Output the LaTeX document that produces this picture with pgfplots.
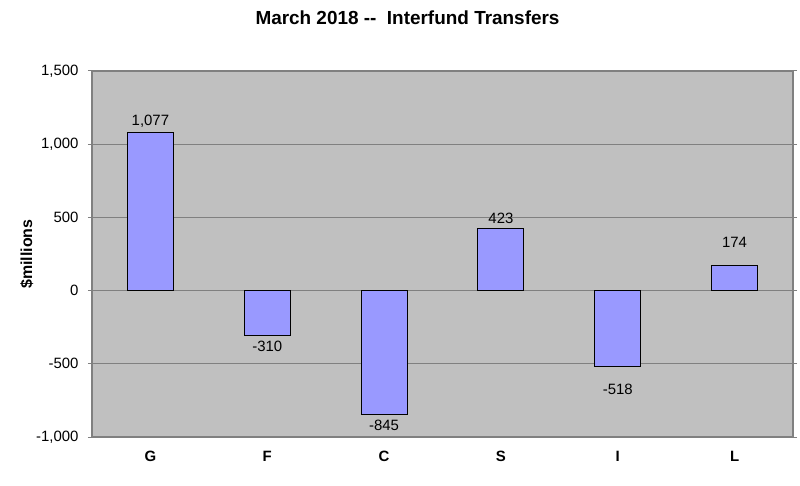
\documentclass[border=0pt]{standalone}
\usepackage{pgfplots}
\pgfplotsset{compat=1.18}
\usepackage{fontspec}
\setmainfont{Liberation Sans}
\definecolor{plotbg}{HTML}{C0C0C0}
\definecolor{barfill}{HTML}{9999FF}
\definecolor{gridc}{HTML}{808080}
\begin{document}
\begin{tikzpicture}
\begin{axis}[
  at={(0,0)}, anchor=south west,
  scale only axis,
  width=701bp, height=366bp,
  axis background/.style={fill=plotbg},
  axis line style={gridc, line width=1.2bp},
  xmin=-0.5, xmax=5.5,
  ymin=-1000, ymax=1500,
  ytick={-1000,-500,0,500,1000,1500},
  ymajorgrids,
  grid style={gridc, line width=1.2bp},
  xtick={0,1,2,3,4,5},
  xticklabels={G,F,C,S,I,L},
  major x tick style={draw=none},
  major y tick style={gridc, line width=1bp},
  tick align=outside,
  major tick length=4bp,
  y tick label style={font=\fontsize{15}{17}\selectfont, xshift=-6bp},
  x tick label style={font=\bfseries\fontsize{15}{17}\selectfont, yshift=-7bp},
  /pgf/number format/1000 sep={,},
  /pgf/number format/assume math mode=true,
  ylabel={\$millions},
  ylabel style={font=\bfseries\fontsize{16}{18}\selectfont, yshift=-4bp},
  title={March 2018 -{}-\ \ Interfund Transfers},
  title style={font=\bfseries\fontsize{19}{21}\selectfont, yshift=37bp, xshift=-35bp},
  ybar, bar width=46bp, bar shift=0pt,
  nodes near coords,
  nodes near coords style={font=\fontsize{15}{17}\selectfont, /pgf/number format/1000 sep={,}, /pgf/number format/assume math mode=true},
]
\addplot[fill=barfill, draw=black, line width=1bp,
  nodes near coords style={inner sep=5bp}]
  coordinates {(0,1077) (1,-310) (2,-845) (3,423)};
\addplot[fill=barfill, draw=black, line width=1bp,
  nodes near coords style={inner sep=17bp}]
  coordinates {(4,-518) (5,174)};
\end{axis}
\pgfresetboundingbox
\useasboundingbox (-92bp,-49bp) rectangle (708bp,437bp);
\end{tikzpicture}
\end{document}
